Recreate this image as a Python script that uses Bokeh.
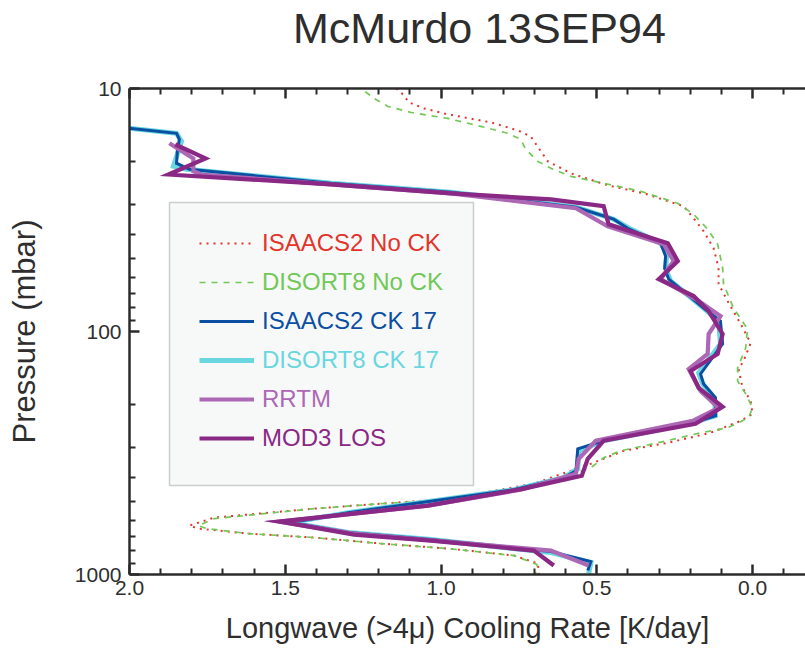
from bokeh.plotting import figure
from bokeh.models import (Range1d, FixedTicker, PrintfTickFormatter, LinearAxis,
                          Legend, LegendItem, BoxAnnotation, CustomJSTickFormatter)
from bokeh.embed import file_html
from bokeh.resources import INLINE

# ---------------- data (cooling rate K/day vs pressure mbar) ----------------
p_isaacs_nock = [9.54, 10.0, 10.58, 11.41, 12.08, 12.67, 13.15, 13.79, 14.88, 15.75,
                 17.64, 19.95, 22.34, 25.02, 26.99, 30.52, 34.20, 38.66, 45.41, 54.85,
                 63.81, 74.94, 93.16, 111.5, 132.2, 142.6, 170.6, 192.9, 218.3, 233.2,
                 261.2, 287.1, 309.6, 350.1, 422.9, 487.4, 511.0, 535.8, 583.4, 629.1,
                 647.2, 678.6, 704.7, 746.0, 782.1, 835.7, 901.3, 1000.0]
r_isaacs_nock = [1.160, 1.144, 1.122, 1.103, 1.054, 0.990, 0.926, 0.840, 0.753, 0.712,
                 0.686, 0.657, 0.583, 0.465, 0.349, 0.221, 0.189, 0.157, 0.125, 0.109,
                 0.109, 0.080, 0.038, 0.006, 0.029, 0.045, 0.032, 0.006, 0.000, 0.038,
                 0.135, 0.272, 0.413, 0.519, 0.702, 0.968, 1.192, 1.407, 1.728, 1.808,
                 1.779, 1.619, 1.407, 1.192, 0.978, 0.766, 0.689, 0.686]

p_disort_nock = [9.54, 10.0, 10.99, 11.86, 12.55, 13.28, 14.32, 15.30, 16.20, 17.80,
                 19.95, 21.31, 22.98, 24.55, 26.48, 29.67, 32.92, 37.93, 43.72, 54.85,
                 63.81, 80.07, 97.65, 116.9, 141.2, 159.7, 180.6, 206.2, 226.6, 249.1,
                 261.2, 287.1, 309.6, 330.8, 363.6, 439.2, 492.0, 511.0, 535.8, 588.8,
                 629.1, 647.2, 678.6, 704.7, 746.0, 782.1, 835.7, 910.0, 1000.0]
r_disort_nock = [1.272, 1.256, 1.215, 1.170, 1.096, 0.978, 0.872, 0.785, 0.744, 0.728,
                 0.689, 0.647, 0.583, 0.478, 0.359, 0.240, 0.189, 0.144, 0.112, 0.096,
                 0.093, 0.061, 0.016, 0.022, 0.048, 0.048, 0.022, 0.000, 0.013, 0.080,
                 0.167, 0.304, 0.423, 0.478, 0.519, 0.702, 0.968, 1.192, 1.407, 1.728,
                 1.779, 1.753, 1.619, 1.407, 1.192, 0.978, 0.766, 0.692, 0.696]

p_isaacs_ck = [14.55, 15.3, 16.2, 17.8, 20.3, 21.5, 24.55, 26.7, 30.8, 34.5,
               37.6, 43.3, 49.0, 54.9, 60.9, 80.1, 90.6, 112.5, 149.5, 164.3,
               187.6, 222.3, 237.6, 281.7, 303.8, 374.1, 399.7, 447.6, 556.5, 611.5,
               672.0, 718.0, 805.0, 884.0, 963.0]
r_isaacs_ck = [2.01, 1.849, 1.840, 1.846, 1.849, 1.808, 1.353, 0.968, 0.567, 0.446,
               0.401, 0.295, 0.279, 0.282, 0.269, 0.157, 0.103, 0.096, 0.167, 0.157,
               0.119, 0.119, 0.192, 0.478, 0.561, 0.567, 0.606, 0.766, 1.298, 1.481,
               1.298, 1.032, 0.647, 0.519, 0.529]

p_disort_ck = [14.55, 15.3, 16.5, 20.9, 21.5, 24.55, 26.7, 30.8, 34.5, 37.9,
               43.3, 47.6, 54.9, 62.0, 80.1, 90.6, 112.5, 148.1, 164.3, 187.6,
               222.3, 237.6, 281.7, 309.6, 367.1, 399.7, 447.6, 556.5, 611.5, 672.0,
               718.0, 812.3, 892.8, 990.0]
r_disort_ck = [2.01, 1.849, 1.833, 1.859, 1.817, 1.353, 0.968, 0.567, 0.446, 0.391,
               0.295, 0.275, 0.279, 0.263, 0.157, 0.109, 0.103, 0.173, 0.160, 0.122,
               0.119, 0.192, 0.478, 0.558, 0.561, 0.606, 0.766, 1.298, 1.481, 1.298,
               1.032, 0.647, 0.519, 0.526]

p_rrtm = [16.8, 19.4, 21.9, 22.6, 24.8, 27.0, 31.1, 36.9, 43.7, 51.3,
          60.9, 74.9, 86.4, 102.4, 123.7, 142.6, 175.5, 206.2, 233.2, 281.7,
          333.9, 384.9, 447.6, 520.8, 605.8, 678.6, 797.0, 918.4]
r_rrtm = [1.872, 1.795, 1.795, 1.769, 1.353, 0.968, 0.567, 0.465, 0.285, 0.253,
          0.295, 0.173, 0.103, 0.141, 0.144, 0.205, 0.167, 0.109, 0.192, 0.503,
          0.558, 0.567, 0.744, 1.042, 1.519, 1.279, 0.647, 0.526]

p_mod3 = [17.0, 19.4, 22.6, 24.8, 27.0, 28.6, 30.5, 36.2, 43.3, 51.3,
          60.9, 71.5, 82.4, 102.4, 123.7, 145.3, 170.6, 204.2, 239.9, 281.7,
          333.9, 392.2, 443.4, 520.8, 605.8, 685.0, 725.1, 797.0, 918.4]
r_mod3 = [1.853, 1.756, 1.875, 1.353, 0.968, 0.647, 0.478, 0.462, 0.272, 0.240,
          0.301, 0.189, 0.141, 0.096, 0.112, 0.199, 0.173, 0.096, 0.183, 0.478,
          0.529, 0.548, 0.734, 1.042, 1.519, 1.279, 1.032, 0.702, 0.638]

series_labels = ["ISAACS2 No CK", "DISORT8 No CK", "ISAACS2 CK 17",
                 "DISORT8 CK 17", "RRTM", "MOD3 LOS"]
chart_title = "McMurdo 13SEP94"

x_major = [2.0, 1.5, 1.0, 0.5, 0.0]
x_minor = [1.9, 1.8, 1.7, 1.6, 1.4, 1.3, 1.2, 1.1, 0.9, 0.8, 0.7, 0.6,
           0.4, 0.3, 0.2, 0.1, -0.1]
y_major = [10, 100, 1000]
y_minor = [20, 30, 40, 50, 60, 70, 80, 90, 200, 300, 400, 500, 600, 700, 800, 900]

# ---------------- styling ----------------
C_RED = "#e3342a"
C_GREEN = "#72c857"
C_BLUE = "#0b4fa3"
C_CYAN = "#6ad6df"
C_RRTM = "#ad68b5"
C_MOD3 = "#8a2886"
C_TEXT = "#2e2e2e"
FONT = "Liberation Sans"

W, H = 805, 653
ML, MT, MB = 129, 87, 79

p = figure(width=W, height=H, output_backend="svg", toolbar_location=None,
           x_range=Range1d(2.0, -0.17), y_range=Range1d(1000, 10),
           y_axis_type="log",
           min_border_left=ML, min_border_right=0, min_border_top=MT,
           min_border_bottom=MB)
p.title = None
p.outline_line_color = None
p.grid.visible = False
p.background_fill_color = "white"
p.border_fill_color = "white"


def style_axis(ax):
    ax.axis_line_width = 2.5
    ax.axis_line_color = "#2b2b2b"
    ax.major_tick_line_width = 2.5
    ax.major_tick_line_color = "#2b2b2b"
    ax.minor_tick_line_width = 2
    ax.minor_tick_line_color = "#2b2b2b"
    ax.major_tick_in = 10
    ax.major_tick_out = 0
    ax.minor_tick_in = 6
    ax.minor_tick_out = 0
    ax.major_label_text_font = FONT
    ax.major_label_text_font_size = "21px"
    ax.major_label_text_color = C_TEXT
    ax.axis_label_text_font = FONT
    ax.axis_label_text_font_style = "normal"
    ax.axis_label_text_font_size = "29px"
    ax.axis_label_text_color = C_TEXT


xa = p.xaxis[0]
style_axis(xa)
xa.ticker = FixedTicker(ticks=x_major, minor_ticks=x_minor)
xa.formatter = PrintfTickFormatter(format="%.1f")
xa.major_label_standoff = 6
xa.axis_label = "Longwave (>4\u03bc) Cooling Rate [K/day]"
xa.axis_label_standoff = 14

ya = p.yaxis[0]
style_axis(ya)
ya.ticker = FixedTicker(ticks=y_major, minor_ticks=y_minor)
ya.formatter = PrintfTickFormatter(format="%d")
ya.major_label_standoff = 8
ya.axis_label = "Pressure (mbar)"
ya.axis_label_text_font_size = "31px"
ya.axis_label_standoff = 30

# top axis: inward ticks, no tick labels; carries the chart title as its label
top = LinearAxis(ticker=FixedTicker(ticks=x_major, minor_ticks=x_minor),
                 formatter=CustomJSTickFormatter(code="return ''"))
style_axis(top)
top.major_label_standoff = 0
top.axis_label = "\u00a0\u00a0" + chart_title
top.axis_label_text_font_size = "43px"
top.axis_label_standoff = 37
p.add_layout(top, "above")

# ---------------- lines ----------------
r_red = p.line(r_isaacs_nock, p_isaacs_nock, line_color=C_RED, line_width=2,
               line_dash="2 5")
r_green = p.line(r_disort_nock, p_disort_nock, line_color=C_GREEN, line_width=1.7,
                 line_dash="6 6")
r_cyan = p.line(r_disort_ck, p_disort_ck, line_color=C_CYAN, line_width=5,
                line_join="miter")
r_blue = p.line(r_isaacs_ck, p_isaacs_ck, line_color=C_BLUE, line_width=3,
                line_join="miter")
r_rrtm = p.line(r_rrtm, p_rrtm, line_color=C_RRTM, line_width=4.2,
                line_join="miter")
r_mod3 = p.line(r_mod3, p_mod3, line_color=C_MOD3, line_width=4.2,
                line_join="miter")

# ---------------- legend ----------------
frame_h = H - MT - MB
box = BoxAnnotation(left=40, right=344, bottom=89, top=372,
                    left_units="screen", right_units="screen",
                    top_units="screen", bottom_units="screen",
                    fill_color="#f7f9f9", fill_alpha=1.0,
                    line_color="#5f5f5f", line_width=1.5)
p.add_layout(box)

entries = list(zip(series_labels,
                   [r_red, r_green, r_blue, r_cyan, r_rrtm, r_mod3],
                   [C_RED, C_GREEN, C_BLUE, C_CYAN, C_RRTM, C_MOD3]))
first_center = 243 - MT  # from frame top
pitch = 39
for i, (lab, rend, col) in enumerate(entries):
    center_from_top = first_center + pitch * i
    y_bottom = frame_h - center_from_top - 15
    leg = Legend(items=[LegendItem(label=lab, renderers=[rend])],
                 location=(70, y_bottom), padding=0, margin=0, spacing=0,
                 glyph_width=55, glyph_height=30, label_height=30,
                 label_standoff=8, label_text_color=col,
                 label_text_font=FONT, label_text_font_size="24px",
                 border_line_color=None, background_fill_alpha=0)
    p.add_layout(leg)

open("out.html", "w").write(file_html(p, INLINE))
